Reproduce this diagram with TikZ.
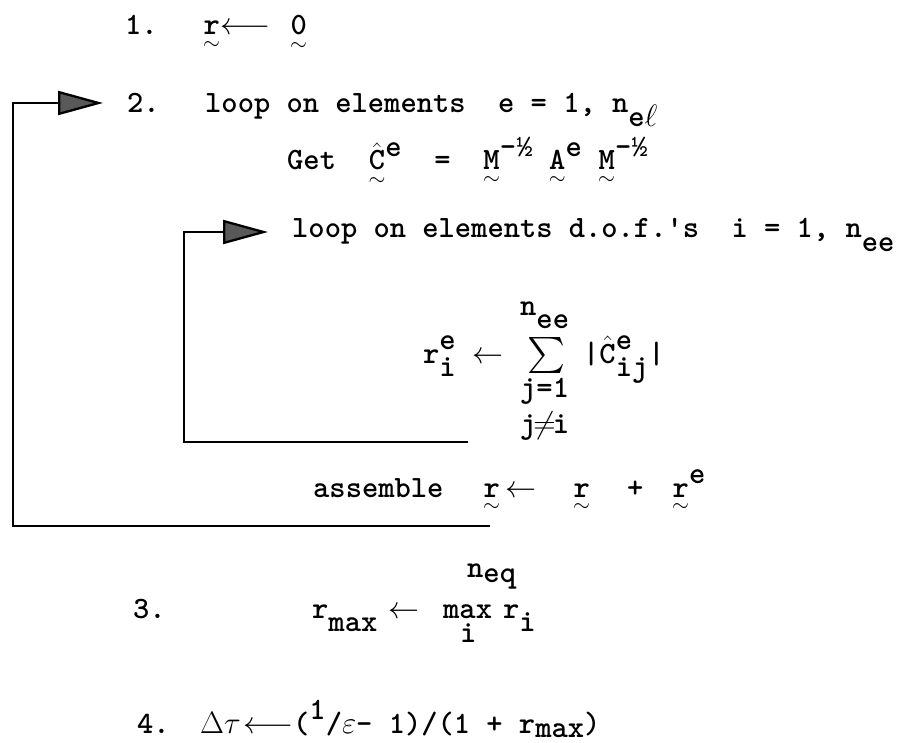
\documentclass[tikz,border=0pt]{standalone}
\usepackage{fix-cm}
\usepackage{amsmath}
\usepackage{graphicx}
\usetikzlibrary{arrows.meta,calc}

\newcommand{\tv}[1]{$\underset{\sim}{\hbox{#1}}$}
\newcommand{\sps}[1]{\raisebox{0.45em}{#1}}
\newcommand{\sbs}[1]{\raisebox{-0.45em}{#1}}
\newcommand{\ssb}[2]{\rlap{\sps{#1}}\sbs{#2}}

\begin{document}
\begin{tikzpicture}[x=1pt, y=-1pt,
    every node/.style={font=\fontsize{31}{37}\selectfont\ttfamily\bfseries, inner sep=0pt, anchor=base west},
    loopline/.style={line width=2.3pt},
    bighead/.style={-{Triangle[length=45pt, width=24pt, fill=black!65]}}]
    \useasboundingbox (0,0) rectangle (899,743);

    % step 1
    \node (n1) at (125,35) {1.};
    \node (r1) at (203,35) {\tv{r}};
    \node (a1) at (220,35) {$\longleftarrow$};
    \node (z1) at (290,35) {\tv{0}};

    % step 2, element loop
    \node (n2) at (127,113) {2.};
    \node (lpe) at (205,113) {loop on elements~~e = 1, n\sbs{e$\ell$}};
    \node (get) at (287,170) {Get~~$\underset{\sim}{\hat{\hbox{C}}}$\sps{e}~~=~~\tv{M}\sps{-½}~\tv{A}\sps{e}~\tv{M}\sps{-½}};

    % dof loop
    \node (lpd) at (292,238) {loop on elements d.o.f.'s~~i = 1, n\sbs{ee}};
    \node (rie) at (423,363) {r\ssb{e}{i}};
    \node (arw) at (472,363) {$\leftarrow$};
    \node[anchor=center] (sig) at (546,356) {\resizebox*{38pt}{36pt}{$\sum$}};
    \node (nee) at (520,315) {n\sbs{ee}};
    \node (j1) at (520,397) {j=1};
    \node (jni) at (520,433) {j\makebox[0.525em]{$\neq$}i};
    \node (cij) at (583,363) {|$\hat{\hbox{C}}$\ssb{e}{ij}|};

    % assembly
    \node (asm) at (313,497) {assemble};
    \node (ra) at (483,497) {\tv{r}};
    \node (aa) at (505,497) {$\leftarrow$};
    \node (rb) at (573,497) {\tv{r}};
    \node (pl) at (627,497) {+};
    \node (rc) at (672,497) {\tv{r}\sps{e}};

    % loop lines
    \coordinate (ib) at (468,442);
    \coordinate (ic) at (184,442);
    \coordinate (it) at ($(lpd.base west)+(-24,-6)$);
    \draw[loopline, bighead] (ib) -- (ic) |- (it);
    \coordinate (ob) at (490,526);
    \coordinate (oc) at (13,526);
    \coordinate (ot) at ($(n2.base west)+(-24,-10)$);
    \draw[loopline, bighead] (ob) -- (oc) |- (ot);

    % step 3
    \node (n3) at (133,618) {3.};
    \node (rm) at (312,618) {r\raisebox{-0.42em}{max}};
    \node (a3) at (388,618) {$\leftarrow$};
    \node (mx) at (443,618) {max};
    \node (ri) at (503,618) {r\sbs{i}};
    \node (neq) at (467,577) {n\raisebox{-5pt}{eq}};
    \node (mi) at (460,642) {i};

    % step 4
    \node (n4) at (137,733) {4.};
    \node (dt) at (200,733) {$\Delta\tau$};
    \node (a4) at (243,733) {$\longleftarrow$};
    \node (ex) at (293,733) {(\sps{1}/$\varepsilon$- 1)/(1 + r\raisebox{-0.15em}{max})};
\end{tikzpicture}
\end{document}
